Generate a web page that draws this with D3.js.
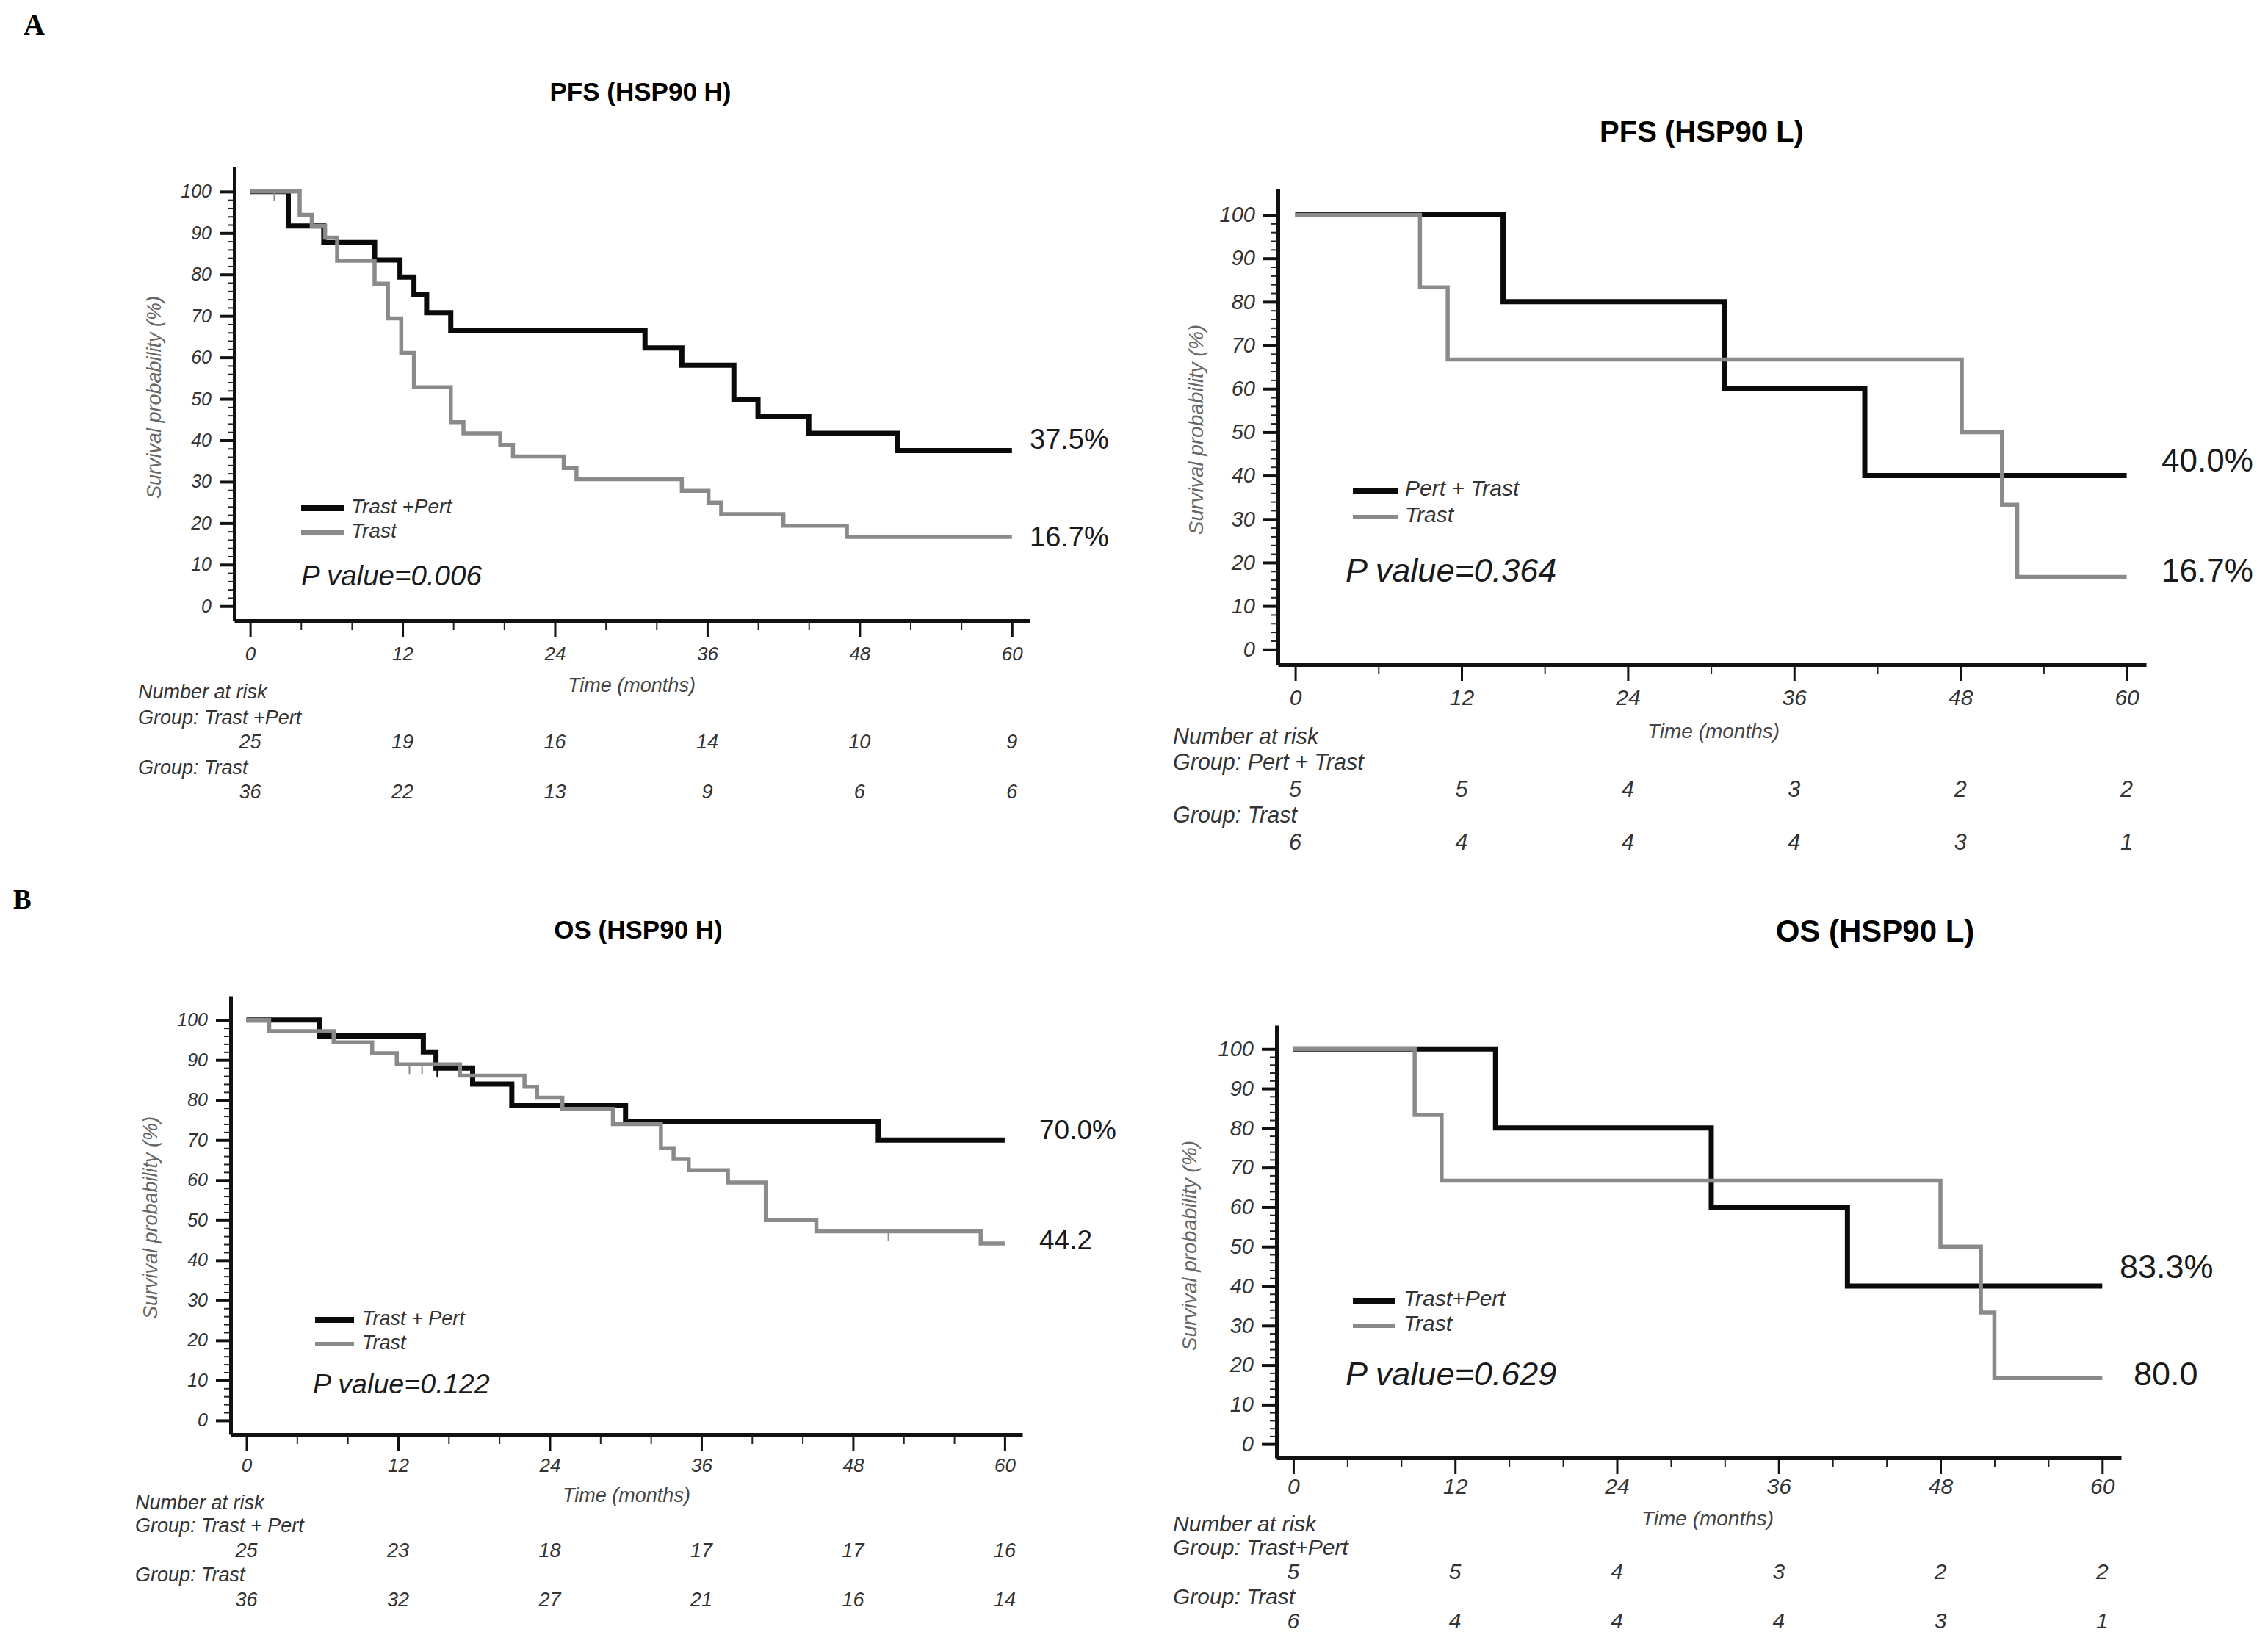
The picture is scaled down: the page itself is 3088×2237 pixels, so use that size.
<!DOCTYPE html>
<meta charset="utf-8">
<style>
body { margin: 0; background: #fff; }
svg { display: block; }
text { font-family: "Liberation Sans", Arial, sans-serif; fill: #222; }
</style>
<body>
<svg id="fig" width="3088" height="2237"></svg>
<script src="https://cdn.jsdelivr.net/npm/d3@7"></script>
<script>
// shared ticks
var xTicks = [0, 12, 24, 36, 48, 60];
var yTicks = [0, 10, 20, 30, 40, 50, 60, 70, 80, 90, 100];

// PFS, HSP90 high
var pfsHComboTime = [3, 5.8, 9.8, 11.8, 12.9, 13.9, 15.8, 31.1, 34, 38.1, 40, 44, 51];
var pfsHComboSurv = [91.7, 87.7, 83.5, 79.4, 75.2, 70.8, 66.5, 62.3, 58.1, 49.8, 45.8, 41.7, 37.5];
var pfsHTrastTime = [3.9, 4.85, 5.9, 6.85, 9.8, 10.85, 11.9, 12.9, 15.8, 16.8, 19.7, 20.7, 24.7, 25.7, 34, 36.1, 37.1, 42, 47];
var pfsHTrastSurv = [94.4, 91.7, 88.9, 83.3, 77.8, 69.4, 61.1, 52.8, 44.4, 41.7, 38.9, 36.1, 33.3, 30.6, 27.8, 25, 22.2, 19.4, 16.7];
var pfsHTrastCensor = [[1.9, 100]];
var pfsHComboRisk = [25, 19, 16, 14, 10, 9];
var pfsHTrastRisk = [36, 22, 13, 9, 6, 6];

// PFS, HSP90 low
var pfsLComboTime = [15, 31, 41.1];
var pfsLComboSurv = [80, 60, 40];
var pfsLTrastTime = [9, 11, 48.1, 51, 52.1];
var pfsLTrastSurv = [83.3, 66.7, 50, 33.3, 16.7];
var pfsLComboRisk = [5, 5, 4, 3, 2, 2];
var pfsLTrastRisk = [6, 4, 4, 4, 3, 1];

// OS, HSP90 high
var osHComboTime = [5.8, 14, 15, 17.9, 21, 30, 50];
var osHComboSurv = [96, 92, 88, 84, 78.6, 74.7, 70];
var osHComboCensor = [[15.1, 88]];
var osHTrastTime = [1.8, 6.9, 9.95, 11.9, 16.9, 22, 23, 25, 29, 32.8, 33.8, 35, 38.1, 41.1, 45.1, 58.1];
var osHTrastSurv = [97.2, 94.4, 91.7, 88.9, 86.1, 83.3, 80.6, 77.8, 74, 68, 65.3, 62.5, 59.4, 50, 47.2, 44.2];
var osHTrastCensor = [[12.9, 88.9], [13.9, 88.9], [50.8, 47.2]];
var osHComboRisk = [25, 23, 18, 17, 17, 16];
var osHTrastRisk = [36, 32, 27, 21, 16, 14];

// OS, HSP90 low
var osLComboTime = [15, 31, 41.1];
var osLComboSurv = [80, 60, 40];
var osLTrastTime = [9, 11, 48, 51, 52];
var osLTrastSurv = [83.3, 66.7, 50, 33.3, 16.7];
var osLComboRisk = [5, 5, 4, 3, 2, 2];
var osLTrastRisk = [6, 4, 4, 4, 3, 1];

var BLACK = "#0a0a0a", GREY = "#8a8a8a";

var panels = [
  {
    l: 319, r: 1402, t: 227, b: 845, minor: 4,
    title: "PFS (HSP90 H)", titleX: 872, titleY: 137, titleSize: 35,
    fs: {yt: 25, xt: 26, lab: 27, risk: 27, leg: 28, pv: 38.5, end: 38},
    ylab: [210, 541],
    rows: {tick: 54, time: 97, nar: 106, g1: 141, n1: 174, g2: 209, n2: 242},
    timeX: 860, tableX: 188,
    combo: [pfsHComboTime, pfsHComboSurv, []], trast: [pfsHTrastTime, pfsHTrastSurv, pfsHTrastCensor],
    risk: [pfsHComboRisk, pfsHTrastRisk], groups: ["Group: Trast +Pert", "Group: Trast"],
    leg: {x1: 410, x2: 468, y1: 692, y2: 725, tx: 478, names: ["Trast +Pert", "Trast"]},
    pv: {x: 410, y: 797, text: "P value=0.006"},
    ends: [{x: 1402, y: 611, text: "37.5%"}, {x: 1402, y: 744, text: "16.7%"}]
  },
  {
    l: 1740, r: 2922, t: 257, b: 905, minor: 6,
    title: "PFS (HSP90 L)", titleX: 2317, titleY: 193, titleSize: 40,
    fs: {yt: 29, xt: 30, lab: 28, risk: 30.5, leg: 30, pv: 45, end: 44},
    ylab: [1628, 585],
    rows: {tick: 55, time: 100, nar: 108, g1: 143, n1: 180, g2: 215, n2: 252},
    timeX: 2333, tableX: 1597,
    combo: [pfsLComboTime, pfsLComboSurv, []], trast: [pfsLTrastTime, pfsLTrastSurv, []],
    risk: [pfsLComboRisk, pfsLTrastRisk], groups: ["Group: Pert + Trast", "Group: Trast"],
    leg: {x1: 1842, x2: 1904, y1: 668, y2: 704, tx: 1913, names: ["Pert + Trast", "Trast"]},
    pv: {x: 1832, y: 792, text: "P value=0.364"},
    ends: [{x: 2943, y: 642, text: "40.0%"}, {x: 2943, y: 792, text: "16.7%"}]
  },
  {
    l: 314, r: 1392, t: 1356, b: 1953, minor: 4,
    title: "OS (HSP90 H)", titleX: 869, titleY: 1278, titleSize: 35,
    fs: {yt: 25, xt: 26, lab: 27, risk: 27, leg: 27, pv: 37.7, end: 37},
    ylab: [205, 1658],
    rows: {tick: 51, time: 92, nar: 102, g1: 133, n1: 167, g2: 200, n2: 234},
    timeX: 853, tableX: 184,
    combo: [osHComboTime, osHComboSurv, osHComboCensor], trast: [osHTrastTime, osHTrastSurv, osHTrastCensor],
    risk: [osHComboRisk, osHTrastRisk], groups: ["Group: Trast + Pert", "Group: Trast"],
    leg: {x1: 429, x2: 482, y1: 1797, y2: 1830, tx: 493, names: ["Trast + Pert", "Trast"]},
    pv: {x: 426, y: 1897, text: "P value=0.122"},
    ends: [{x: 1415, y: 1551, text: "70.0%"}, {x: 1415, y: 1701, text: "44.2"}]
  },
  {
    l: 1738, r: 2888, t: 1396, b: 1985, minor: 4,
    title: "OS (HSP90 L)", titleX: 2553, titleY: 1282, titleSize: 42,
    fs: {yt: 29, xt: 30, lab: 28, risk: 30, leg: 30, pv: 45, end: 45},
    ylab: [1619, 1696],
    rows: {tick: 49, time: 92, nar: 100, g1: 132, n1: 165, g2: 199, n2: 232},
    timeX: 2325, tableX: 1597,
    combo: [osLComboTime, osLComboSurv, []], trast: [osLTrastTime, osLTrastSurv, []],
    risk: [osLComboRisk, osLTrastRisk], groups: ["Group: Trast+Pert", "Group: Trast"],
    leg: {x1: 1842, x2: 1899, y1: 1771, y2: 1805, tx: 1911, names: ["Trast+Pert", "Trast"]},
    pv: {x: 1832, y: 1886, text: "P value=0.629"},
    ends: [{x: 2886, y: 1740, text: "83.3%"}, {x: 2905, y: 1886, text: "80.0"}]
  }
];

var svg = d3.select("#fig");
svg.append("rect").attr("width", 3088).attr("height", 2237).attr("fill", "#fff");

// panel letters
svg.append("text").attr("x", 32).attr("y", 47).text("A")
  .style("font-family", "'Liberation Serif', 'Times New Roman', serif").style("font-weight", "bold").style("font-size", "40px").style("fill", "#000");
svg.append("text").attr("x", 18).attr("y", 1237).text("B")
  .style("font-family", "'Liberation Serif', 'Times New Roman', serif").style("font-weight", "bold").style("font-size", "37px").style("fill", "#000");

function steps(times, surv) {
  var pts = [[0, 100]];
  times.forEach(function(t, i) { pts.push([t, surv[i]]); });
  pts.push([60, surv[surv.length - 1]]);
  return pts;
}

panels.forEach(function(p) {
  var g = svg.append("g");
  var x = d3.scaleLinear().domain([-1.25, 61.4]).range([p.l, p.r]);
  var y = d3.scaleLinear().domain([-3.5, 106]).range([p.b, p.t]);

  // title
  g.append("text").attr("x", p.titleX).attr("y", p.titleY).attr("text-anchor", "middle")
    .style("font-weight", "bold").style("font-size", p.titleSize + "px").style("fill", "#000").text(p.title);

  // y axis minor ticks (every 2%)
  var minorY = d3.range(0, 101, 2).filter(function(v) { return v % 10 !== 0; });
  g.append("g").attr("transform", "translate(" + p.l + ",0)")
    .call(d3.axisLeft(y).tickValues(minorY).tickSize(9).tickSizeOuter(0).tickFormat(""))
    .call(function(s) { s.select(".domain").remove(); })
    .selectAll("line").attr("stroke", "#222").attr("stroke-width", 2);

  // y axis major
  var ya = g.append("g").attr("transform", "translate(" + p.l + ",0)")
    .call(d3.axisLeft(y).tickValues(yTicks).tickSize(20).tickPadding(11).tickSizeOuter(0));
  ya.select(".domain").attr("stroke", "#111").attr("stroke-width", 5);
  ya.selectAll(".tick line").attr("stroke", "#111").attr("stroke-width", 4);
  ya.selectAll("text").attr("font-family", null).attr("font-size", null)
    .style("font-size", p.fs.yt + "px").style("font-style", "italic").style("fill", "#333");

  // x axis minor ticks
  var minorX = d3.range(0, 61, p.minor).filter(function(v) { return v % 12 !== 0; });
  g.append("g").attr("transform", "translate(0," + p.b + ")")
    .call(d3.axisBottom(x).tickValues(minorX).tickSize(13).tickSizeOuter(0).tickFormat(""))
    .call(function(s) { s.select(".domain").remove(); })
    .selectAll("line").attr("stroke", "#222").attr("stroke-width", 2);

  // x axis major
  var xa = g.append("g").attr("transform", "translate(0," + p.b + ")")
    .call(d3.axisBottom(x).tickValues(xTicks).tickSize(22).tickSizeOuter(0));
  xa.select(".domain").attr("stroke", "#111").attr("stroke-width", 5);
  xa.selectAll(".tick line").attr("stroke", "#111").attr("stroke-width", 3);
  xa.selectAll("text").attr("font-family", null).attr("font-size", null)
    .attr("dy", null).attr("y", p.rows.tick)
    .style("font-size", p.fs.xt + "px").style("font-style", "italic").style("fill", "#333");

  // y label
  g.append("text").attr("transform", "translate(" + p.ylab[0] + "," + p.ylab[1] + ") rotate(-90)")
    .attr("text-anchor", "middle").attr("dy", "0.35em")
    .style("font-size", p.fs.lab + "px").style("font-style", "italic").style("fill", "#666")
    .text("Survival probability (%)");

  // x label
  g.append("text").attr("x", p.timeX).attr("y", p.b + p.rows.time).attr("text-anchor", "middle")
    .style("font-size", p.fs.lab + "px").style("font-style", "italic").style("fill", "#444")
    .text("Time (months)");

  // survival curves
  var line = d3.line().x(function(d) { return x(d[0]); }).y(function(d) { return y(d[1]); })
    .curve(d3.curveStepAfter);
  var series = [
    {d: p.combo, color: BLACK, w: 7},
    {d: p.trast, color: GREY, w: 5.5}
  ];
  series.forEach(function(s) {
    g.append("path").datum(steps(s.d[0], s.d[1])).attr("d", line)
      .attr("fill", "none").attr("stroke", s.color).attr("stroke-width", s.w)
      .attr("stroke-linejoin", "miter").attr("stroke-linecap", "butt");
    g.selectAll(null).data(s.d[2]).enter().append("line")
      .attr("x1", function(c) { return x(c[0]); }).attr("x2", function(c) { return x(c[0]); })
      .attr("y1", function(c) { return y(c[1]); }).attr("y2", function(c) { return y(c[1]) + 13; })
      .attr("stroke", s.color).attr("stroke-width", 2);
  });

  // legend
  [[p.leg.y1, BLACK, 8], [p.leg.y2, GREY, 6]].forEach(function(l, i) {
    g.append("line").attr("x1", p.leg.x1).attr("x2", p.leg.x2).attr("y1", l[0]).attr("y2", l[0])
      .attr("stroke", l[1]).attr("stroke-width", l[2]);
    g.append("text").attr("x", p.leg.tx).attr("y", l[0] + 7)
      .style("font-size", p.fs.leg + "px").style("font-style", "italic").style("fill", "#333")
      .text(p.leg.names[i]);
  });

  // p value
  g.append("text").attr("x", p.pv.x).attr("y", p.pv.y)
    .style("font-size", p.fs.pv + "px").style("font-style", "italic").style("fill", "#1a1a1a")
    .text(p.pv.text);

  // end labels
  p.ends.forEach(function(e) {
    g.append("text").attr("x", e.x).attr("y", e.y)
      .style("font-size", p.fs.end + "px").style("fill", "#1a1a1a").text(e.text);
  });

  // number at risk table
  var tbl = g.append("g").style("font-size", p.fs.risk + "px").style("font-style", "italic");
  tbl.append("text").attr("x", p.tableX).attr("y", p.b + p.rows.nar).style("fill", "#333").text("Number at risk");
  tbl.append("text").attr("x", p.tableX).attr("y", p.b + p.rows.g1).style("fill", "#333").text(p.groups[0]);
  tbl.append("text").attr("x", p.tableX).attr("y", p.b + p.rows.g2).style("fill", "#333").text(p.groups[1]);
  [[p.risk[0], p.rows.n1], [p.risk[1], p.rows.n2]].forEach(function(r) {
    tbl.selectAll(null).data(r[0]).enter().append("text")
      .attr("x", function(d, i) { return x(xTicks[i]); })
      .attr("y", p.b + r[1]).attr("text-anchor", "middle").style("fill", "#333")
      .text(function(d) { return d; });
  });
});
</script>
